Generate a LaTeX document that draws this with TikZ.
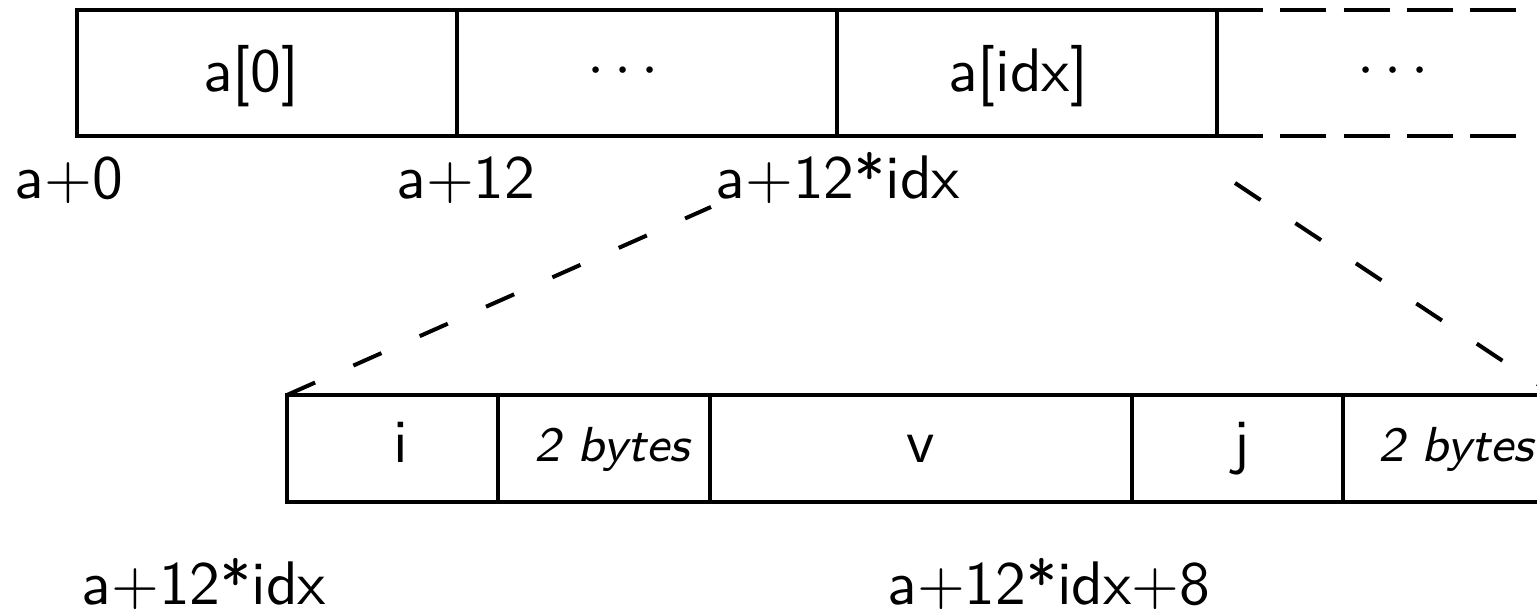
\documentclass[tikz,border=0pt]{standalone}
\begin{document}
\begin{tikzpicture}[x=0.1626pt, y=-0.1626pt, line width=0.65pt,
  font=\sffamily,
  lbl/.style={anchor=base, inner sep=0pt},
  pad/.style={lbl, font=\sffamily\footnotesize\itshape},
  rowdash/.style={dash pattern=on 7.48pt off 2.81pt},
  zoomdash/.style={dash pattern=on 5pt off 6.8pt}]
\useasboundingbox (0,0) rectangle (1537,614);
\clip (0,0) rectangle (1537,614);

% array cells
\coordinate (t0) at (77,10);   \coordinate (b0) at (77,136);
\coordinate (t1) at (457,10);  \coordinate (b1) at (457,136);
\coordinate (t2) at (837,10);  \coordinate (b2) at (837,136);
\coordinate (t3) at (1217,10); \coordinate (b3) at (1217,136);
\coordinate (t4) at (1525,10); \coordinate (b4) at (1525,136);

\draw (t3) -- (t0) -- (b0) -- (b3);
\draw (t1) -- (b1);
\draw (t2) -- (b2);
\draw (t3) -- (b3);
\draw[rowdash] (t3) -- (t4);
\draw[rowdash] (b3) -- (b4);

\node[lbl] (a0)    at (251,92)  {a[0]};
\node[lbl] (dots1) at (623,86)  {$\cdots$};
\node[lbl] (aidx)  at (1018,92) {a[idx]};
\node[lbl] (dots2) at (1393,86) {$\cdots$};

% addresses of the array cells
\node[lbl] (ad0) at (69,199)  {a+0};
\node[lbl] (ad1) at (466,199) {a+12};
\node[lbl] (adi) at (838,199) {a+12*idx};

% layout of one element
\coordinate (s0) at (287,395);  \coordinate (e0) at (287,502);
\coordinate (s1) at (498,395);  \coordinate (e1) at (498,502);
\coordinate (s2) at (710,395);  \coordinate (e2) at (710,502);
\coordinate (s3) at (1132,395); \coordinate (e3) at (1132,502);
\coordinate (s4) at (1343,395); \coordinate (e4) at (1343,502);
\coordinate (s5) at (1554,395); \coordinate (e5) at (1554,502);

\draw (s0) rectangle (e5);
\foreach \k in {1,2,3,4} \draw (s\k) -- (e\k);

\node[lbl] (fi) at (401,463)  {i};
\node[pad] (p1) at (612,462)  {2 bytes};
\node[lbl] (fv) at (921,463)  {v};
\node[lbl] (fj) at (1242,463) {j};
\node[pad] (p2) at (1456,462) {2 bytes};

% offsets of the fields
\node[lbl] (bd0) at (204,605)  {a+12*idx};
\node[lbl] (bd1) at (1049,605) {a+12*idx+8};

% zoom lines from the element to its layout
\coordinate (zl) at (711,207);
\coordinate (zr) at (1235,183);
\draw[zoomdash] (s0) -- (zl);
\draw[zoomdash] (zr) -- (s5);
\end{tikzpicture}
\end{document}
